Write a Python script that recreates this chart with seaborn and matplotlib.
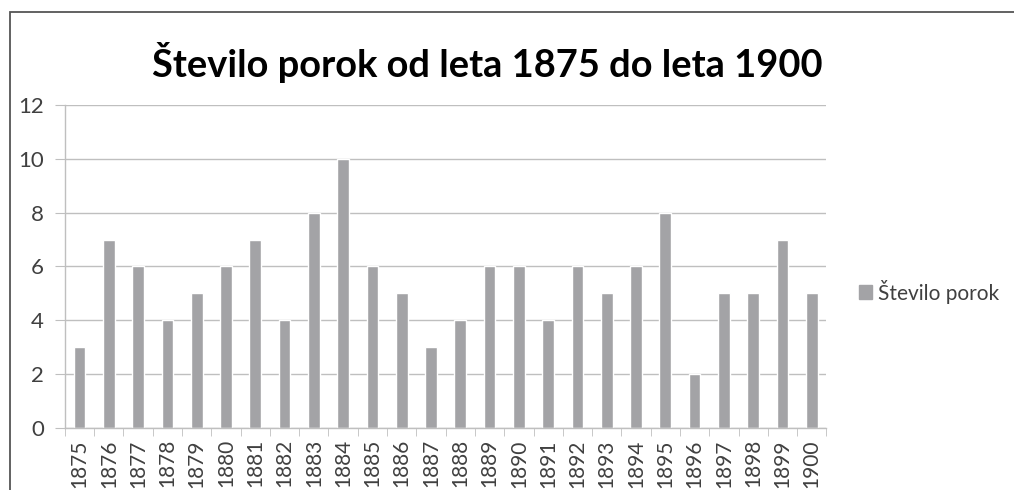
import matplotlib
matplotlib.use("Agg")
import matplotlib.pyplot as plt
import pandas as pd
import seaborn as sns
from matplotlib.patches import Patch, Rectangle

years = [str(y) for y in range(1875, 1901)]
marriages = [3, 7, 6, 4, 5, 6, 7, 4, 8, 10, 6, 5, 3, 4, 6, 6, 4, 6, 5, 6, 8, 2, 5, 5, 7, 5]
series_name = "Število porok"
title = "Število porok od leta 1875 do leta 1900"

df = pd.DataFrame({"leto": years, "poroke": marriages})

sns.set_style("white")
plt.rcParams["font.family"] = ["Lato", "DejaVu Sans"]

bar_color = "#a3a3a6"
grid_color = "#bfbfbf"
text_color = "#404040"

fig = plt.figure(figsize=(10.14, 4.9), dpi=100)
ax = fig.add_axes([0.064, 0.1265, 0.751, 0.6595])

sns.barplot(data=df, x="leto", y="poroke", color=bar_color, width=0.4,
            saturation=1, ax=ax)

ax.set_ylim(0, 12)
ax.set_yticks(range(0, 13, 2))
ax.set_xlim(-0.5, len(years) - 0.5)
ax.yaxis.grid(True, color=grid_color, linewidth=1)
ax.set_axisbelow(True)
ax.set_xlabel("")
ax.set_ylabel("")

for side in ["top", "right"]:
    ax.spines[side].set_visible(False)
for side in ["left", "bottom"]:
    ax.spines[side].set_color(grid_color)
    ax.spines[side].set_linewidth(1)

ax.tick_params(axis="y", length=7, color=grid_color, labelsize=16,
               labelcolor=text_color, pad=8, left=True)
ax.tick_params(axis="x", which="major", length=0, labelsize=15,
               labelcolor=text_color, rotation=90, pad=8)
ax.set_xticks([i - 0.5 for i in range(len(years) + 1)], minor=True)
ax.tick_params(axis="x", which="minor", length=6, color=grid_color, bottom=True)

fig.text(0.481, 0.873, title, ha="center", va="center", fontsize=27.4,
         fontweight="bold", color="black")

fig.legend(handles=[Patch(color=bar_color, label=series_name)],
           loc="center left", bbox_to_anchor=(0.847, 0.405), frameon=False,
           fontsize=15, handlelength=0.65, handleheight=0.65, handletextpad=0.25,
           labelcolor=text_color, borderaxespad=0, borderpad=0)

fig.patches.append(Rectangle((10 / 1014, -0.1), 1.2, 1 - 12 / 490 + 0.1,
                             transform=fig.transFigure, fill=False,
                             edgecolor="#555555", linewidth=1.3))

fig.savefig("out.png", dpi=100)
